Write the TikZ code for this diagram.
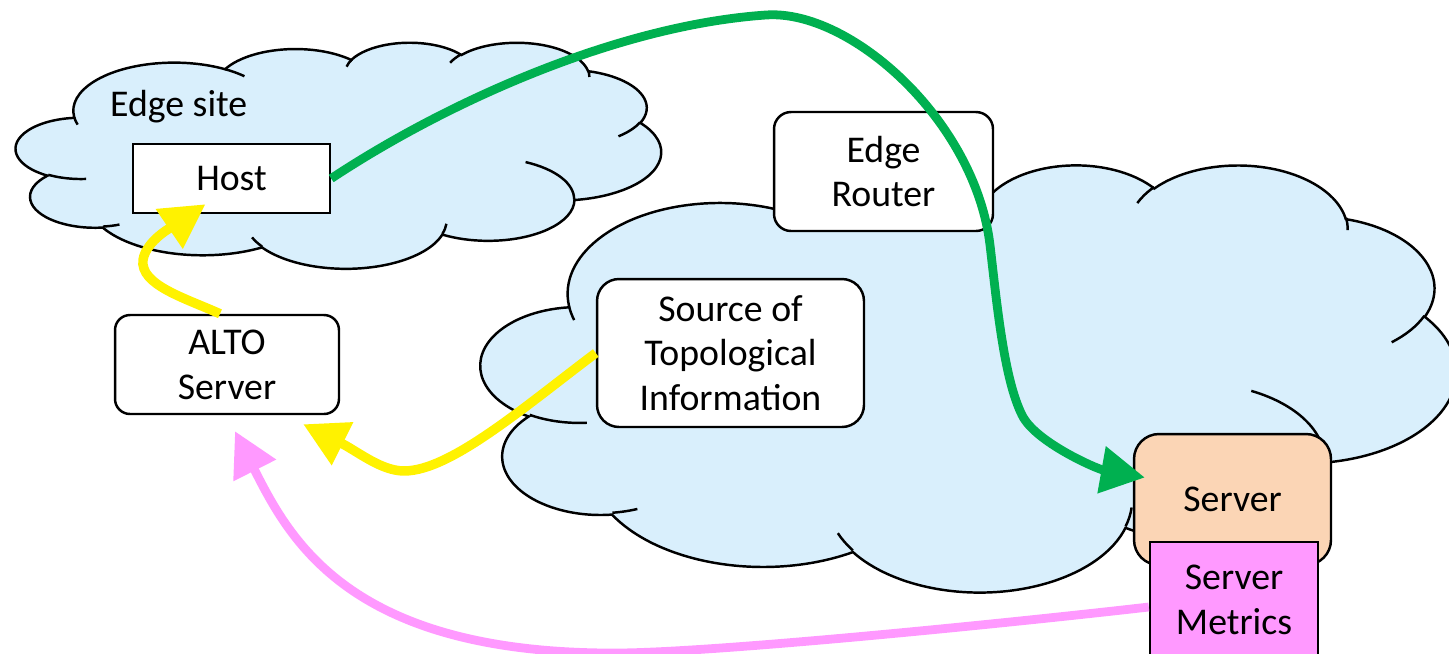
\documentclass[tikz,border=0pt]{standalone}
\usepackage{fontspec}
\setmainfont{Carlito}
\usetikzlibrary{arrows.meta}

\definecolor{cloudblue}{RGB}{217,239,252}
\definecolor{serverpeach}{RGB}{251,213,181}
\definecolor{metricpink}{RGB}{255,153,255}
\definecolor{pathgreen}{RGB}{0,176,80}

% one lobe of the cloud: x radius, y radius, start angle, sweep (angles seen from the lobe centre)
\newcommand\cloudarc[4]{arc[x radius=#1, y radius=#2,
  start angle={atan2(#1*sin(#3),#2*cos(#3))},
  delta angle={mod(atan2(#1*sin(#3+#4),#2*cos(#3+#4))-atan2(#1*sin(#3),#2*cos(#3))+720,360)}]}

% cloud in a 43.2 x 43.2 box, placed at left/top #1,#2 with size #3 x #4
\newcommand\cloudshape[4]{%
  \begin{scope}[shift={(#1,#2)}, xscale=#3/43.2, yscale=#4/43.2]
    \draw[cloudline, fill=cloudblue] (3.9,14.37)
      \cloudarc{6.753}{9.19}{-190.4875}{123.7805}
      \cloudarc{5.333}{7.267}{-144.1024}{89.9452}
      \cloudarc{4.365}{5.945}{-145.8079}{99.723}
      \cloudarc{4.857}{6.595}{-130.9861}{117.2417}
      \cloudarc{5.333}{7.273}{-78.7089}{109.0269}
      \cloudarc{6.775}{9.22}{-46.2673}{130.269}
      \cloudarc{5.785}{7.867}{0.625}{114.0333}
      \cloudarc{6.752}{9.215}{22.4516}{115.1726}
      \cloudarc{7.72}{10.543}{66.2426}{75.711}
      \cloudarc{4.36}{5.918}{-274.9421}{146.7356}
      \cloudarc{4.345}{5.945}{-246.8285}{152.5189} -- cycle;
    % the little inner folds
    \draw[cloudline]
      (4.693,26.177) \cloudarc{4.345}{5.945}{86.742}{26.4295}
      (6.928,34.899) \cloudarc{4.36}{5.918}{73.6105}{11.4475}
      (16.478,39.09) \cloudarc{6.752}{9.215}{137.6242}{14.0811}
      (28.827,34.751) \cloudarc{6.752}{9.215}{6.4533}{15.9984}
      (34.129,22.954) \cloudarc{5.785}{7.867}{-70.2924}{70.9174}
      (41.798,15.354) \cloudarc{5.333}{7.273}{30.318}{27.7515}
      (38.324,5.426) \cloudarc{4.857}{6.595}{-13.7443}{14.8589}
      (29.078,3.952) \cloudarc{4.857}{6.595}{-149.1815}{18.1954}
      (22.141,4.72) \cloudarc{4.365}{5.945}{-163.4943}{17.6864}
      (14.0,5.192) \cloudarc{6.753}{9.19}{-66.707}{12.3194}
      (4.127,15.789) \cloudarc{6.753}{9.19}{157.6544}{11.8582};
  \end{scope}}

\begin{document}
\begin{tikzpicture}[x=0.02cm, y=-0.02cm,
    cloudline/.style={line width=1.4pt},
    txt/.style={font=\fontsize{21.5}{25.5}\selectfont},
    box/.style={txt, draw, line width=1.4pt, fill=white, align=center, inner sep=0pt},
    link/.style={line width=5pt, -{Triangle[length=25pt,width=26pt]}}]
  \useasboundingbox (0,0) rectangle (1449,653);
  \clip (0,0) rectangle (1449,653);

  % the two sites
  \cloudshape{16}{42}{645}{226}
  \cloudshape{481}{164}{975}{427}
  \node[txt, anchor=base west] (site) at (104,116) {Edge site};

  % boxes
  \node[box, minimum width=3.94cm, minimum height=1.38cm] (host) at (231.5,178.5) {Host};
  \node[box, rounded corners=0.34cm, minimum width=4.38cm, minimum height=2.38cm] (router) at (883.5,171.5) {Edge\\Router};
  \node[box, rounded corners=0.3cm, minimum width=4.48cm, minimum height=1.98cm] (alto) at (227,364.5) {ALTO\\Server};
  \node[box, rounded corners=0.44cm, minimum width=5.34cm, minimum height=2.96cm] (source) at (730.5,353) {Source of\\Topological\\Information};
  \node[box, fill=serverpeach, rounded corners=0.5cm, minimum width=3.94cm, minimum height=2.62cm] (server) at (1232.5,499.5) {Server};
  \node[box, fill=metricpink, minimum width=3.36cm, minimum height=2.32cm] (metrics) at (1234,600) {Server\\Metrics};

  % flows
  \draw[link, pathgreen] (host.east) .. controls (450,100) and (620,25) .. (766,15)
    .. controls (850,9) and (975,120) .. (990,245)
    .. controls (997,305) and (1004,379) .. (1022,415)
    .. controls (1035,442) and (1097,469) .. ([shift={(12,-22)}]server.west);
  \draw[link, yellow, line width=5.4pt] ([shift={(-7,0)}]alto.north) .. controls (185,298) and (140,285) .. (143,260)
    .. controls (146,240) and (175,225) .. ([shift={(-26,-10)}]host.south);
  \draw[link, yellow, line width=5.4pt] (source.west) .. controls (520,410) and (440,480) .. (395,470)
    .. controls (375,466) and (355,450) .. ([shift={(-37,9)}]alto.south east);
  \draw[link, metricpink] ([shift={(0,7)}]metrics.west) .. controls (1000,624) and (720,652) .. (620,653)
    .. controls (350,655) and (290,540) .. ([shift={(8,16)}]alto.south);
\end{tikzpicture}
\end{document}
